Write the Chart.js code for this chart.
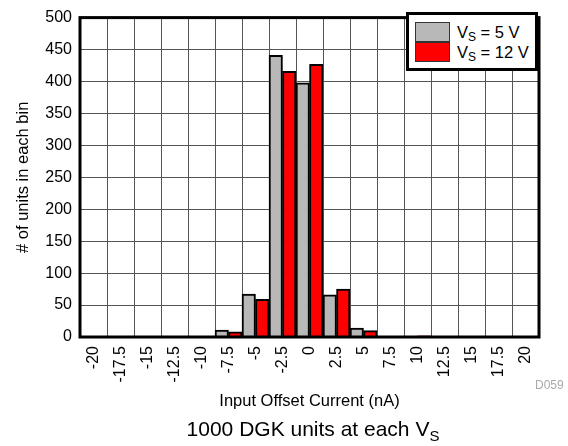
<!DOCTYPE html>
<html>
<head>
<meta charset="utf-8">
<script src="https://cdn.jsdelivr.net/npm/chart.js@4/dist/chart.umd.min.js"></script>
<style>
  html, body { margin: 0; padding: 0; background: #fff; }
  body { width: 568px; height: 446px; position: relative; overflow: hidden; font-family: "Liberation Sans", Arial, sans-serif; }
  #c { position: absolute; left: 0; top: 0; }
  #legend { position: absolute; left: 406px; top: 12px; width: 126px; height: 53px; border: 3px solid #000; background: #fff; }
  .item { position: absolute; left: 6px; height: 20px; display: flex; align-items: center; }
  .sw { width: 33px; height: 18px; border: 1px solid #333; box-sizing: content-box; }
  .lt { margin-left: 7px; font-size: 16.5px; color: #000; white-space: nowrap; line-height: 16px; }
  sub { font-size: 12px; vertical-align: -3px; line-height: 0; }
  #caption { position: absolute; left: 0; width: 626px; top: 417px; text-align: center; font-size: 21px; color: #000; }
  #caption sub { font-size: 15px; vertical-align: -5px; }
  #code { position: absolute; left: 535px; top: 378px; font-size: 12px; color: #aaa; }
</style>
</head>
<body>
<canvas id="c" width="568" height="446"></canvas>
<div id="legend"></div>
<div id="caption">1000 DGK units at each V<sub>S</sub></div>
<div id="code">D059</div>
<script>
const categories = ['-20','-17.5','-15','-12.5','-10','-7.5','-5','-2.5','0','2.5','5','7.5','10','12.5','15','17.5','20'];
const vs5  = [0, 0, 0, 0, 1, 11, 67, 441, 398, 66, 14, 1, 1, 0, 0, 0, 0];
const vs12 = [0, 0, 0, 0, 1,  8, 59, 416, 427, 75, 10, 1, 2, 0, 0, 0, 0];
const seriesNames = ['5 V', '12 V'];
const seriesColors = ['#b8b8b8', '#ff0000'];
const yTicks = [0, 50, 100, 150, 200, 250, 300, 350, 400, 450, 500];

const frame = {
  id: 'frame',
  afterDatasetsDraw(chart) {
    const a = chart.chartArea, ctx = chart.ctx;
    ctx.save();
    ctx.strokeStyle = '#000';
    ctx.lineWidth = 3;
    ctx.strokeRect(a.left, a.top, a.right - a.left, a.bottom - a.top);
    ctx.restore();
  }
};

const tickFont = { family: '"Liberation Sans", Arial, sans-serif', size: 16 };
const titleFont = { family: '"Liberation Sans", Arial, sans-serif', size: 16.5 };

const chart = new Chart(document.getElementById('c'), {
  type: 'bar',
  data: {
    labels: categories,
    datasets: [vs5, vs12].map((d, i) => ({
      label: 'VS = ' + seriesNames[i],
      data: d,
      backgroundColor: seriesColors[i],
      borderColor: '#000',
      borderWidth: 2,
      borderSkipped: 'bottom',
      categoryPercentage: 1.0,
      barPercentage: 1.0
    }))
  },
  options: {
    responsive: false,
    animation: false,
    layout: { padding: { left: 0, top: 13, right: 29, bottom: 35 } },
    plugins: { legend: { display: false }, tooltip: { enabled: false } },
    scales: {
      x: {
        grid: { color: '#555', lineWidth: 1, drawTicks: false, offset: true },
        border: { display: false },
        ticks: { font: tickFont, color: '#000', minRotation: 90, maxRotation: 90, padding: 9, autoSkip: false },
        title: { display: true, text: 'Input Offset Current (nA)', font: titleFont, color: '#000', padding: { top: 0, bottom: 0 } },
        afterFit(s) { s.height = 74; }
      },
      y: {
        min: 0, max: 500,
        afterBuildTicks(s) { s.ticks = yTicks.map(v => ({ value: v })); },
        grid: { color: '#555', lineWidth: 1, drawTicks: false },
        border: { display: false },
        ticks: { font: tickFont, color: '#000', padding: 8 },
        title: { display: true, text: '# of units in each bin', font: titleFont, color: '#000', padding: { top: 14, bottom: 0 } },
        afterFit(s) { s.width = 80; }
      }
    }
  },
  plugins: [frame]
});

// HTML legend built from the datasets
const leg = document.getElementById('legend');
chart.data.datasets.forEach((ds, i) => {
  const it = document.createElement('div');
  it.className = 'item';
  it.style.top = (7 + i * 20) + 'px';
  it.innerHTML = '<div class="sw" style="background:' + ds.backgroundColor + '"></div>' +
                 '<div class="lt">V<sub>S</sub> = ' + seriesNames[i] + '</div>';
  leg.appendChild(it);
});
</script>
</body>
</html>
